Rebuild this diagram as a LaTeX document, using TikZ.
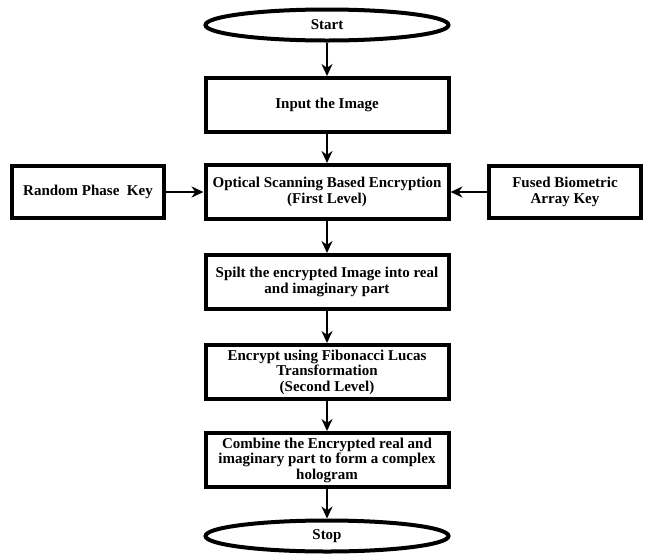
\documentclass[tikz,border=0pt]{standalone}
\usepackage{fontspec}
\setmainfont{Liberation Serif}
\usetikzlibrary{arrows,arrows.meta,shapes.geometric}

\begin{document}
\begin{tikzpicture}[>={Stealth[length=12pt,width=11pt]},x=1pt,y=1pt,node distance=88pt,
	process/.style={rectangle, draw, line width=4pt, minimum width=243pt, minimum height=54pt, align=center, inner sep=1pt, font=\bfseries\fontsize{15}{15.5}\selectfont},
	keybox/.style={process, minimum width=152pt, minimum height=52pt},
	terminal/.style={ellipse, draw, line width=4pt, minimum width=243pt, minimum height=31pt, inner sep=0pt, font=\bfseries\fontsize{15}{15.5}\selectfont}]
				\useasboundingbox (0,0) rectangle (648,-555);
				\node[terminal]      (S) at (327,-25)   {Start};
				\node[process]       (I) at (327,-105)  {Input the Image};
				\node[process]       (O) [below of=I, node distance=87pt] {Optical Scanning Based Encryption\\(First Level)};
				\node[keybox]        (R) [left of=O, node distance=239pt]  {Random Phase\ \ Key};
				\node[keybox]        (F) [right of=O, node distance=238pt] {Fused Biometric\\Array Key};
				\node[process]       (P) [below of=O, node distance=90pt] {Spilt the encrypted Image into real\\and imaginary part};
				\node[process]       (E) [below of=P, node distance=90pt] {Encrypt using Fibonacci Lucas\\Transformation\\(Second Level)};
				\node[process]       (C) [below of=E, node distance=88pt] {Combine the Encrypted real and\\imaginary part to form a complex\\hologram};
				\node[terminal]      (T) [below of=C, node distance=76pt] {Stop};

				\path[->, line width=2.5pt] (S)   edge   (I)
								(I)   edge   (O)
								(R)   edge   (O)
								(F)   edge   (O)
								(O)   edge   (P)
								(P)   edge   (E)
								(E)   edge   (C)
								(C)   edge   (T);

			\end{tikzpicture}
\end{document}
